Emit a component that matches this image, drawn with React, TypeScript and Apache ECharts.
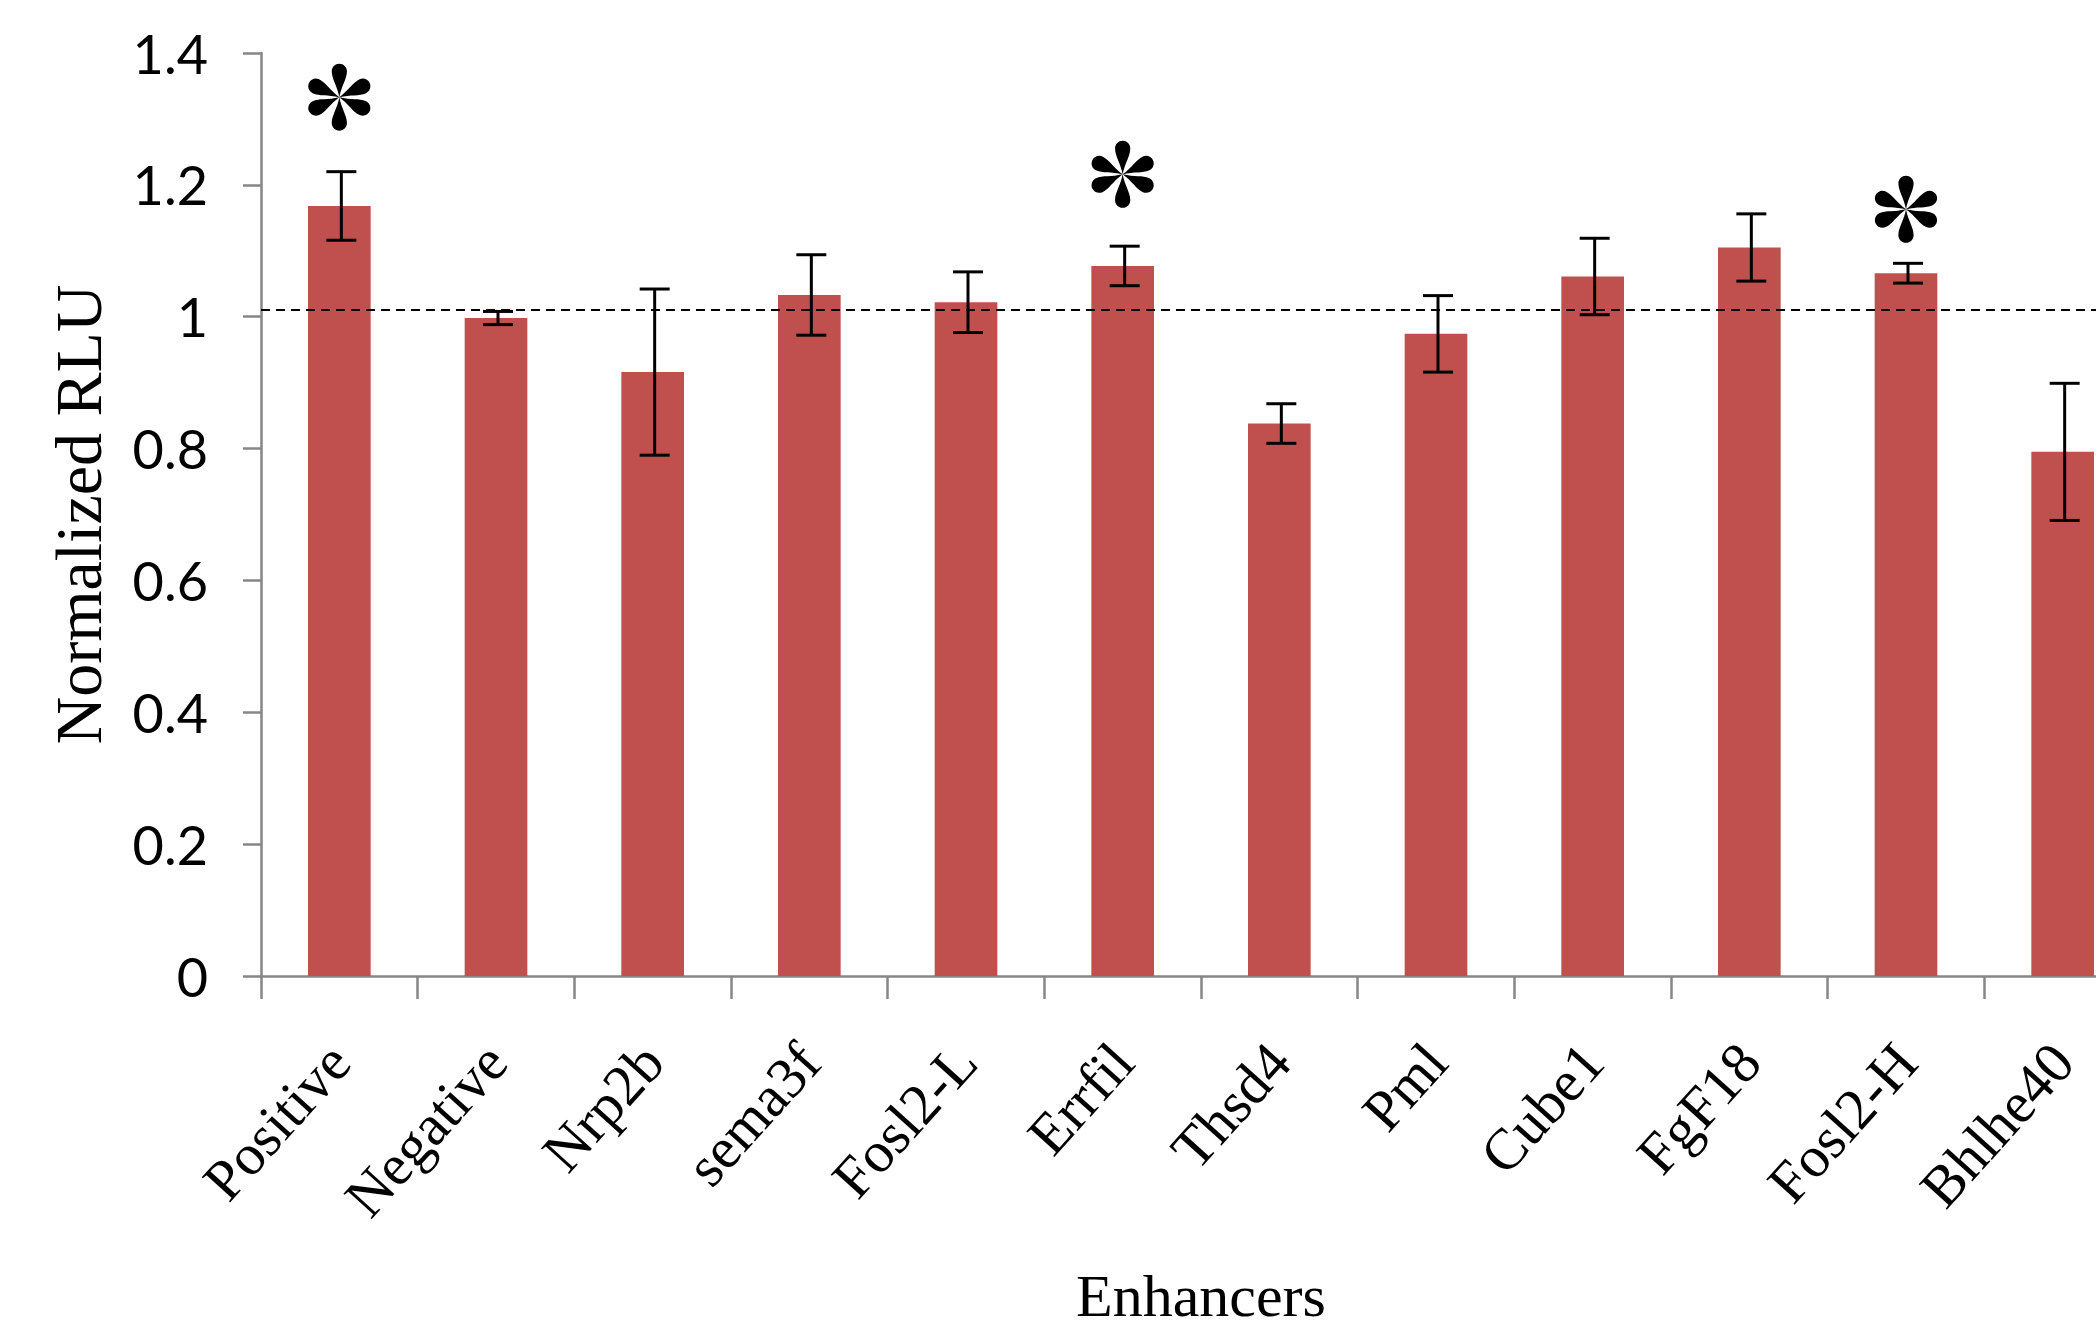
import React, { useEffect, useRef } from "react";
import * as echarts from "echarts";

const categories = [
  "Positive", "Negative", "Nrp2b", "sema3f", "Fosl2-L", "Errfil",
  "Thsd4", "Pml", "Cube1", "FgF18", "Fosl2-H", "Bhlhe40",
];
const values = [1.168, 0.998, 0.916, 1.033, 1.022, 1.077, 0.838, 0.974, 1.061, 1.105, 1.066, 0.795];
const errors = [0.052, 0.010, 0.126, 0.061, 0.046, 0.030, 0.030, 0.058, 0.058, 0.051, 0.015, 0.104];
const significant = ["Positive", "Errfil", "Fosl2-H"];
const asteriskHeights = [1.333, 1.216, 1.163];
const referenceLine = 1.01;
const yMin = 0;
const yMax = 1.4;
const yInterval = 0.2;

// six teardrop petals, drawn as one path (shape only)
function asteriskPath(): string {
  const L = 33;
  const w = 7.5;
  const angles = [90, 25, -25, -90, 205, 155];
  const f = (n: number) => n.toFixed(2);
  let d = "";
  for (const a of angles) {
    const r = (a * Math.PI) / 180;
    const ux = Math.cos(r), uy = -Math.sin(r);
    const vx = -uy, vy = ux;
    const p = (s: number, t: number) => `${f(s * ux + t * vx)} ${f(s * uy + t * vy)}`;
    d += `M ${p(0, 0)} `;
    d += `C ${p(L * 0.35, -w * 0.3)} ${p(L - 2 * w, -w)} ${p(L - w, -w)} `;
    d += `C ${p(L - w + 0.55 * w, -w)} ${p(L, -0.55 * w)} ${p(L, 0)} `;
    d += `C ${p(L, 0.55 * w)} ${p(L - w + 0.55 * w, w)} ${p(L - w, w)} `;
    d += `C ${p(L - 2 * w, w)} ${p(L * 0.35, w * 0.3)} ${p(0, 0)} Z `;
  }
  return "path://" + d.trim();
}

export default function App() {
  const ref = useRef<HTMLDivElement>(null);
  useEffect(() => {
    if (!ref.current) return;
    const chart = echarts.init(ref.current, undefined, { renderer: "svg" });
    const axisColor = "#868686";
    chart.setOption({
      animation: false,
      backgroundColor: "#ffffff",
      grid: { left: 261, top: 53, width: 1880, height: 923, containLabel: false },
      xAxis: {
        type: "category",
        data: categories,
        name: "Enhancers",
        nameLocation: "middle",
        nameGap: 290,
        nameTextStyle: { fontFamily: "Liberation Serif", fontSize: 60, color: "#000" },
        axisLine: { show: true, lineStyle: { color: axisColor, width: 2.5 } },
        axisTick: { show: true, length: 23, alignWithLabel: false, interval: 0, lineStyle: { color: axisColor, width: 2.5 } },
        axisLabel: {
          interval: 0,
          rotate: 48,
          margin: 76,
          fontFamily: "Liberation Serif",
          fontSize: 58,
          color: "#000",
        },
      },
      yAxis: {
        type: "value",
        min: yMin,
        max: yMax,
        interval: yInterval,
        name: "Normalized RLU",
        nameLocation: "middle",
        nameGap: 150,
        nameTextStyle: { fontFamily: "Liberation Serif", fontSize: 66, color: "#000" },
        splitLine: { show: false },
        axisLine: { show: true, lineStyle: { color: axisColor, width: 2.5 } },
        axisTick: { show: true, length: 18, lineStyle: { color: axisColor, width: 2.5 } },
        axisLabel: { fontFamily: "Lato", fontSize: 54, color: "#000", margin: 53 },
      },
      series: [
        {
          type: "bar",
          data: values,
          barWidth: "40%",
          itemStyle: { color: "#C0504D" },
          markLine: {
            silent: true,
            symbol: "none",
            label: { show: false },
            lineStyle: { color: "#000", type: [9, 6], width: 2 },
            data: [{ yAxis: referenceLine }],
          },
        },
        {
          type: "custom",
          data: categories.map((_, i) => [i, values[i], errors[i]]),
          encode: { x: 0, y: 1 },
          z: 5,
          renderItem: (params: any, api: any) => {
            const i = api.value(0);
            const v = api.value(1);
            const e = api.value(2);
            const top = api.coord([i, v + e]);
            const bot = api.coord([i, v - e]);
            const x = top[0] + 2;
            const hw = 15;
            const style = { stroke: "#000", lineWidth: 3 };
            return {
              type: "group",
              children: [
                { type: "line", shape: { x1: x, y1: top[1], x2: x, y2: bot[1] }, style },
                { type: "line", shape: { x1: x - hw, y1: top[1], x2: x + hw, y2: top[1] }, style },
                { type: "line", shape: { x1: x - hw, y1: bot[1], x2: x + hw, y2: bot[1] }, style },
              ],
            };
          },
        },
        {
          type: "scatter",
          symbol: asteriskPath(),
          symbolSize: 67,
          symbolKeepAspect: true,
          itemStyle: { color: "#000", opacity: 1 },
          data: significant.map((c, k) => [categories.indexOf(c), asteriskHeights[k]]),
          z: 6,
        },
      ],
    });
    return () => chart.dispose();
  }, []);
  return (
    <div style={{ position: "fixed", left: 0, top: 0, width: 2096, height: 1331, background: "#fff", overflow: "hidden" }}>
      <div ref={ref} style={{ width: 2160, height: 1331 }} />
    </div>
  );
}
